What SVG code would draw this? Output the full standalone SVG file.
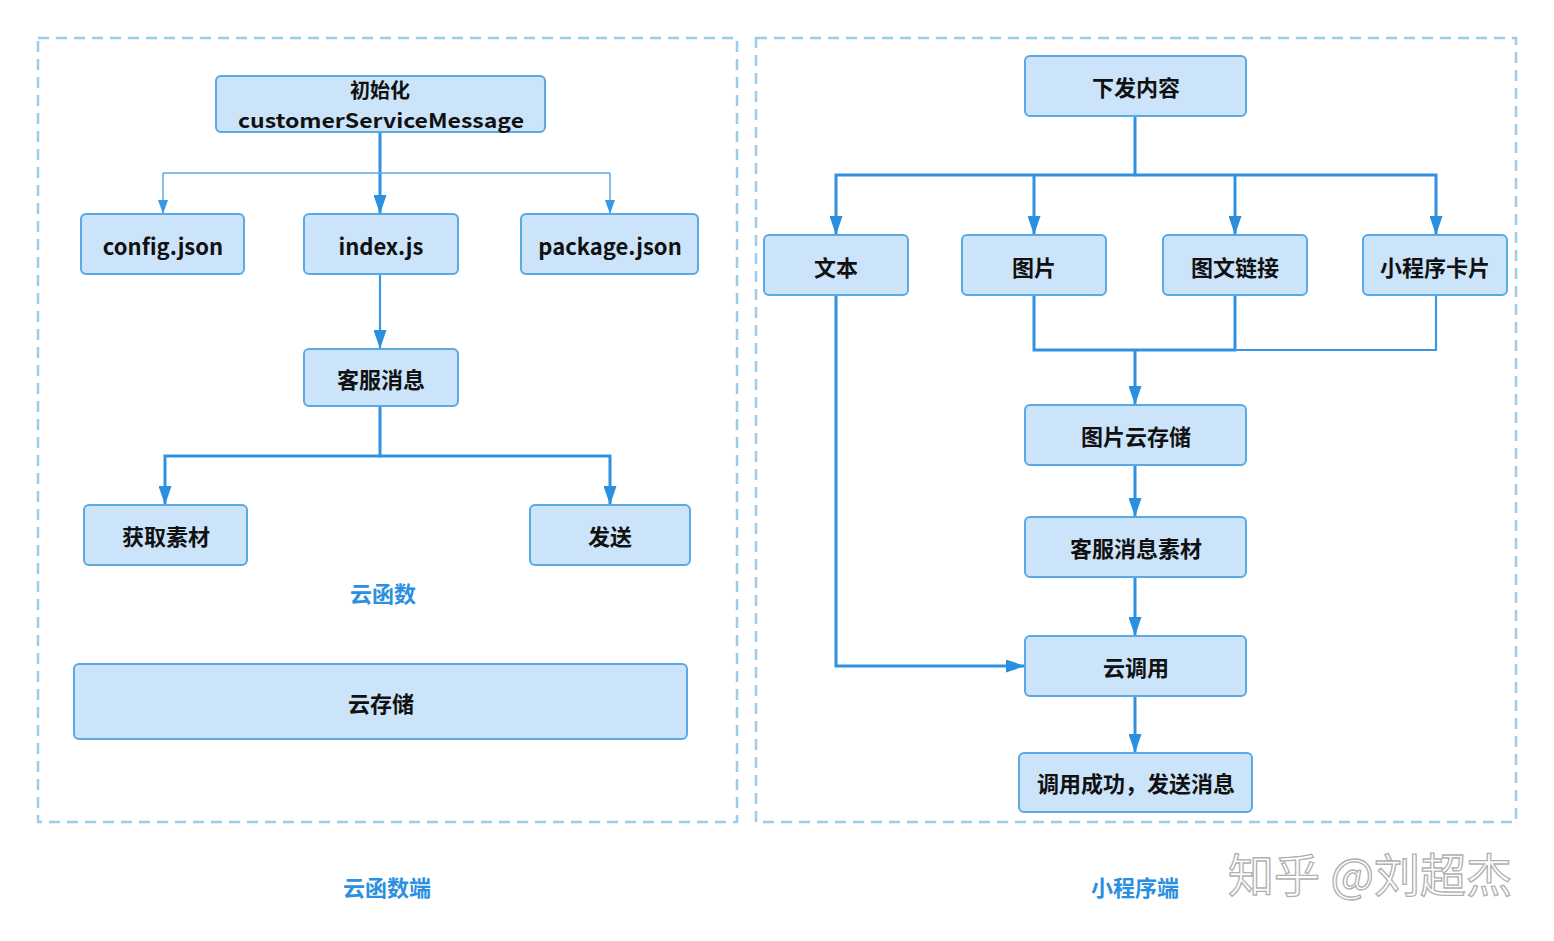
<svg xmlns="http://www.w3.org/2000/svg" width="1554" height="941" viewBox="0 0 1554 941">
<defs>
<style>
.frame{fill:none;stroke:#9dcbea;stroke-width:2.5;stroke-dasharray:11 7}
.node rect{fill:#cbe4fa;stroke:#5aa8e4;stroke-width:2}
.node text{font-family:"Noto Sans CJK SC","Noto Sans",sans-serif;font-weight:bold;font-size:22px;fill:#111;text-anchor:middle;dominant-baseline:central}
.node text.sm{font-size:20px}
.lbl{font-family:"Noto Sans CJK SC",sans-serif;font-weight:bold;font-size:22px;fill:#2d8fdf;text-anchor:middle;dominant-baseline:central}
.thick{fill:none;stroke:#2e91e2;stroke-width:3}
.mid{fill:none;stroke:#3a97e3;stroke-width:2.2}
.thin{fill:none;stroke:#5aa9e8;stroke-width:1.5}
.wm{font-family:"Noto Sans CJK SC",sans-serif;font-size:46px;fill:#ffffff;stroke:#b0b0b0;stroke-width:1.3}
</style>
<marker id="ah" viewBox="0 0 19 13" refX="19" refY="6.5" markerWidth="19" markerHeight="13" markerUnits="userSpaceOnUse" orient="auto">
<path d="M0,0 L19,6.5 L0,13 Z" fill="#2b8fe0"/>
</marker>
<marker id="ahs" viewBox="0 0 14 10" refX="14" refY="5" markerWidth="14" markerHeight="10" markerUnits="userSpaceOnUse" orient="auto">
<path d="M0,0 L14,5 L0,10 Z" fill="#3a97e3"/>
</marker>
</defs>
<rect width="1554" height="941" fill="#ffffff"/>
<rect class="frame" x="38" y="38" width="699" height="784"/>
<rect class="frame" x="756" y="38" width="760" height="784"/>

<g id="connectors">
<path class="thick" d="M380,132 V214" marker-end="url(#ah)"/>
<path class="thin" d="M163,173 H610"/>
<path class="thin" d="M163,173 V214" marker-end="url(#ahs)"/>
<path class="thin" d="M610,173 V214" marker-end="url(#ahs)"/>
<path class="mid" d="M380,274 V349" marker-end="url(#ah)"/>
<path class="thick" d="M380,406 V456 H165 V505" marker-end="url(#ah)"/>
<path class="thick" d="M380,456 H610 V505" marker-end="url(#ah)"/>

<path class="thick" d="M1135,116 V175 H836 V235" marker-end="url(#ah)"/>
<path class="thick" d="M1034,175 V235" marker-end="url(#ah)"/>
<path class="thick" d="M1135,175 H1436 V235" marker-end="url(#ah)"/>
<path class="thick" d="M1235,175 V235" marker-end="url(#ah)"/>
<path class="thick" d="M1034,295 V350 H1235 V295"/>
<path class="mid" d="M1235,350 H1436 V295"/>
<path class="thick" d="M1135,350 V405" marker-end="url(#ah)"/>
<path class="thick" d="M1135,465 V517" marker-end="url(#ah)"/>
<path class="thick" d="M1135,577 V636" marker-end="url(#ah)"/>
<path class="thick" d="M1135,696 V753" marker-end="url(#ah)"/>
<path class="thick" d="M836,295 V666 H1025" marker-end="url(#ah)"/>
</g>

<g id="n-init" class="node"><rect x="216" y="76" width="329" height="56" rx="5"/><text class="sm" x="380" y="89">初始化</text><text class="sm" x="381" y="119" textLength="286" lengthAdjust="spacingAndGlyphs">customerServiceMessage</text></g>
<g id="n-config" class="node"><rect x="81" y="214" width="163" height="60" rx="5"/><text x="163" y="245">config.json</text></g>
<g id="n-index" class="node"><rect x="304" y="214" width="154" height="60" rx="5"/><text x="381" y="245">index.js</text></g>
<g id="n-package" class="node"><rect x="521" y="214" width="177" height="60" rx="5"/><text x="610" y="245">package.json</text></g>
<g id="n-kefu" class="node"><rect x="304" y="349" width="154" height="57" rx="5"/><text x="381" y="378">客服消息</text></g>
<g id="n-huoqu" class="node"><rect x="84" y="505" width="163" height="60" rx="5"/><text x="166" y="535">获取素材</text></g>
<g id="n-fasong" class="node"><rect x="530" y="505" width="160" height="60" rx="5"/><text x="610" y="535">发送</text></g>
<text class="lbl" x="383" y="592">云函数</text>
<g id="n-storage" class="node"><rect x="74" y="664" width="613" height="75" rx="5"/><text x="381" y="702">云存储</text></g>

<g id="n-xiafa" class="node"><rect x="1025" y="56" width="221" height="60" rx="5"/><text x="1136" y="86">下发内容</text></g>
<g id="n-text" class="node"><rect x="764" y="235" width="144" height="60" rx="5"/><text x="836" y="266">文本</text></g>
<g id="n-img" class="node"><rect x="962" y="235" width="144" height="60" rx="5"/><text x="1034" y="266">图片</text></g>
<g id="n-link" class="node"><rect x="1163" y="235" width="144" height="60" rx="5"/><text x="1235" y="266">图文链接</text></g>
<g id="n-card" class="node"><rect x="1363" y="235" width="144" height="60" rx="5"/><text x="1435" y="266">小程序卡片</text></g>
<g id="n-imgstore" class="node"><rect x="1025" y="405" width="221" height="60" rx="5"/><text x="1136" y="435">图片云存储</text></g>
<g id="n-material" class="node"><rect x="1025" y="517" width="221" height="60" rx="5"/><text x="1136" y="547">客服消息素材</text></g>
<g id="n-call" class="node"><rect x="1025" y="636" width="221" height="60" rx="5"/><text x="1136" y="666">云调用</text></g>
<g id="n-success" class="node"><rect x="1019" y="753" width="233" height="59" rx="5"/><text x="1136" y="782">调用成功，发送消息</text></g>

<text class="lbl" x="387" y="886">云函数端</text>
<text class="lbl" x="1135" y="886">小程序端</text>
<text class="wm" x="1370" y="892" text-anchor="middle">知乎 @刘超杰</text>
</svg>
